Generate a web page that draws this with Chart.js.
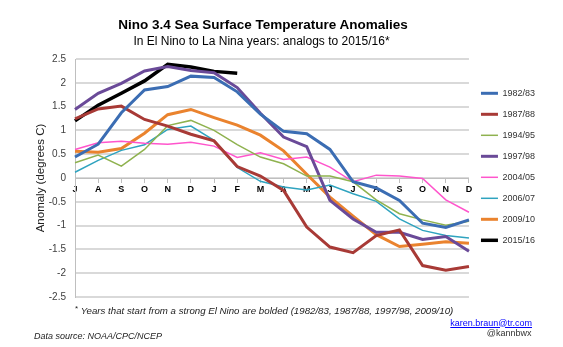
<!DOCTYPE html>
<html>
<head>
<meta charset="utf-8">
<script src="https://cdn.jsdelivr.net/npm/chart.js@4/dist/chart.umd.min.js"></script>
<style>
  html, body { margin: 0; padding: 0; background: #fff; }
  #wrap { position: relative; width: 563px; height: 347px; overflow: hidden; font-family: "Liberation Sans", Arial, sans-serif; }
  #c { position: absolute; left: 0; top: 0; }
  .t { position: absolute; white-space: nowrap; }
</style>
</head>
<body>
<div id="wrap">
  <canvas id="c" width="563" height="347"></canvas>
  <div class="t" id="title" style="left:0; width:526px; text-align:center; top:17px; font-size:13.5px; line-height:16px; font-weight:bold; color:#000;">Nino 3.4 Sea Surface Temperature Anomalies</div>
  <div class="t" id="subtitle" style="left:0; width:523px; text-align:center; top:34px; font-size:12px; line-height:14px; color:#000;">In El Nino to La Nina years: analogs to 2015/16*</div>
  <div class="t" id="foot" style="left:75px; top:302.5px; font-size:9.7px; line-height:12px; font-style:italic; color:#222;"><span style="font-size:8px; vertical-align:3px; font-style:normal;">*</span> Years that start from a strong El Nino are bolded (1982/83, 1987/88, 1997/98, 2009/10)</div>
  <div class="t" id="src" style="left:34px; top:330.5px; font-size:9px; line-height:11px; font-style:italic; color:#222;">Data source: NOAA/CPC/NCEP</div>
  <div class="t" id="mail" style="right:31px; top:317.5px; font-size:9px; line-height:11px; color:#0000ff; text-decoration:underline;">karen.braun@tr.com</div>
  <div class="t" id="handle" style="right:31.5px; top:328px; font-size:9px; line-height:11px; color:#333;">@kannbwx</div>
</div>
<script>
// ---- Data ----
const months = ['J','A','S','O','N','D','J','F','M','A','M','J','J','A','S','O','N','D'];
const yTicksMin = -2.5;
const yTicksMax = 2.5;
const yTickStep = 0.5;

const s1982 = [0.44, 0.71, 1.37, 1.85, 1.92, 2.14, 2.11, 1.81, 1.34, 0.98, 0.93, 0.60, -0.08, -0.21, -0.47, -0.95, -1.04, -0.88];
const s1987 = [1.24, 1.45, 1.51, 1.23, 1.09, 0.92, 0.78, 0.24, 0.04, -0.26, -1.03, -1.45, -1.57, -1.21, -1.09, -1.84, -1.94, -1.86];
const s1994 = [0.32, 0.48, 0.25, 0.60, 1.10, 1.21, 1.00, 0.70, 0.44, 0.30, 0.04, 0.04, -0.08, -0.46, -0.75, -0.88, -0.99, -0.91];
const s1997 = [1.44, 1.78, 1.99, 2.25, 2.34, 2.26, 2.21, 1.90, 1.36, 0.86, 0.66, -0.47, -0.86, -1.14, -1.14, -1.29, -1.23, -1.54];
const s2004 = [0.60, 0.74, 0.77, 0.73, 0.71, 0.75, 0.67, 0.43, 0.53, 0.39, 0.44, 0.23, -0.08, 0.06, 0.04, -0.01, -0.46, -0.72];
const s2006 = [0.12, 0.37, 0.58, 0.70, 1.02, 1.09, 0.79, 0.22, -0.07, -0.19, -0.25, -0.15, -0.33, -0.49, -0.86, -1.10, -1.21, -1.26];
const s2009 = [0.56, 0.54, 0.62, 0.94, 1.33, 1.44, 1.27, 1.11, 0.90, 0.57, 0.08, -0.40, -0.80, -1.19, -1.44, -1.39, -1.34, -1.37];
const s2015 = [1.20, 1.53, 1.78, 2.04, 2.39, 2.33, 2.24, 2.20];

const seriesNames = ['1982/83','1987/88','1994/95','1997/98','2004/05','2006/07','2009/10','2015/16'];
// ---------------------------------------------------

const FONT = '"Liberation Sans", Arial, sans-serif';
const styles = [
  {color:'#3b6db3', width:3},
  {color:'#a83a36', width:3},
  {color:'#8fb24f', width:1.5},
  {color:'#6a4a98', width:3},
  {color:'#ff55cc', width:1.5},
  {color:'#2fa3bf', width:1.5},
  {color:'#ea832e', width:3},
  {color:'#000000', width:3.5}
];
const values = [s1982, s1987, s1994, s1997, s2004, s2006, s2009, s2015];

const datasets = seriesNames.map((name, i) => ({
  label: name,
  data: values[i],
  borderColor: styles[i].color,
  backgroundColor: styles[i].color,
  borderWidth: styles[i].width,
  pointRadius: 0,
  pointHoverRadius: 0,
  tension: 0,
  fill: false
}));

const chart = new Chart(document.getElementById('c'), {
  type: 'line',
  data: { labels: months, datasets },
  options: {
    responsive: false,
    animation: false,
    devicePixelRatio: 1,
    layout: { padding: { left: 0, right: 18, top: 59, bottom: 50 } },
    plugins: {
      tooltip: { enabled: false },
      legend: {
        position: 'right',
        align: 'start',
        title: { display: true, text: ' ', font: { size: 10, family: FONT }, padding: { top: 5.8, bottom: 0 } },
        labels: {
          usePointStyle: true,
          pointStyle: 'line',
          pointStyleWidth: 17,
          padding: 12,
          color: '#333',
          font: { size: 9, family: FONT }
        }
      }
    },
    scales: {
      x: {
        type: 'category',
        position: { y: 0 },
        offset: false,
        grid: { display: true, drawOnChartArea: false, drawTicks: true, tickLength: 4, color: '#bfbfbf' },
        border: { display: true, color: '#bfbfbf', width: 1 },
        ticks: { autoSkip: false, maxRotation: 0, padding: 2, color: '#000', font: { size: 9, weight: 'bold', family: FONT } }
      },
      y: {
        min: yTicksMin,
        max: yTicksMax,
        ticks: { stepSize: yTickStep, padding: 9, color: '#404040', font: { size: 10, family: FONT },
                 callback: (v) => String(Math.round(v * 10) / 10) },
        grid: { color: '#d9d9d9', lineWidth: 2, drawTicks: false },
        border: { display: true, color: '#bfbfbf', width: 1 },
        title: { display: true, text: 'Anomaly (degrees C)', color: '#222', font: { size: 11.5, family: FONT }, padding: { top: 34, bottom: 0 } },
        afterFit: (s) => { s.width = 75; }
      }
    }
  }
});
</script>
</body>
</html>
